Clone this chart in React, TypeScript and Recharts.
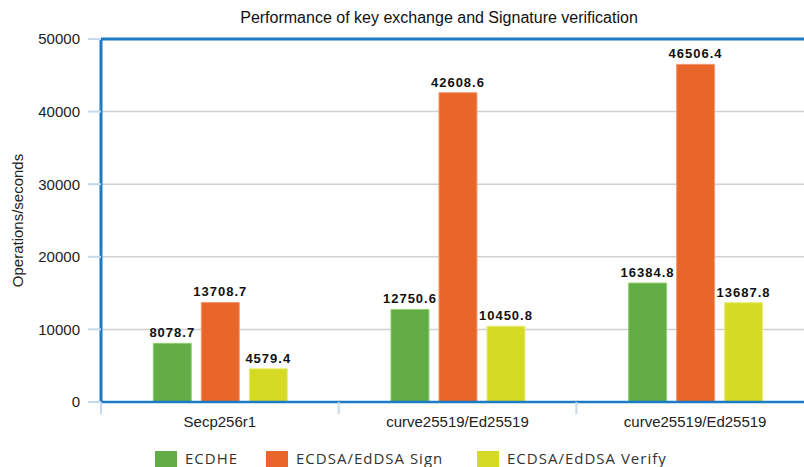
import React from 'react';
import { BarChart, Bar, XAxis, YAxis, CartesianGrid, LabelList, ReferenceLine } from 'recharts';

const categories = ['Secp256r1', 'curve25519/Ed25519', 'curve25519/Ed25519'];
const ecdhe = [8078.7, 12750.6, 16384.8];
const sign = [13708.7, 42608.6, 46506.4];
const verify = [4579.4, 10450.8, 13687.8];
const yTicks = [0, 10000, 20000, 30000, 40000, 50000];

const seriesNames = ['ECDHE', 'ECDSA/EdDSA Sign', 'ECDSA/EdDSA Verify'];
const COLORS = ['#63ad46', '#e9662b', '#d5db24'];
const BLUE = '#1b7bc4';

const CHART_W = 814;
const Y_W = 101;
const BAND = (CHART_W - Y_W) / categories.length;
const FONT = 'Liberation Sans, Arial, sans-serif';

const data = categories.map((c, i) => ({
    key: `${c}-${i}`,
    name: c,
    ecdhe: ecdhe[i],
    sign: sign[i],
    verify: verify[i],
}));

const XTick = (props: any) => {
    const { x, payload } = props;
    const top = 402;
    return (
        <g>
            <line x1={x - BAND / 2} x2={x - BAND / 2} y1={top} y2={top + 12} stroke="#c5d8ec" strokeWidth={2} />
            <text x={x} y={top + 25} textAnchor="middle" fontSize={15} fill="#222" fontFamily={FONT}>
                {categories[payload.index] ?? payload.value}
            </text>
        </g>
    );
};

const labelStyle = { fontSize: 13, fontWeight: 'bold' as const, fill: '#111', letterSpacing: 1, fontFamily: FONT };

const legendLeft = [155, 266, 477];

const App: React.FC = () => {
    return (
        <div style={{ position: 'absolute', left: 0, top: 0, width: 804, height: 467, overflow: 'hidden', background: '#fff' }}>
            <div style={{ position: 'absolute', left: 0, width: 878, top: 9, lineHeight: '18px', textAlign: 'center', fontSize: 16, fontFamily: FONT, color: '#111' }}>
                Performance of key exchange and Signature verification
            </div>
            <BarChart
                width={CHART_W}
                height={467}
                data={data}
                margin={{ top: 39, right: 0, left: 0, bottom: 35 }}
                barCategoryGap="22%"
                barGap={10}
            >
                <CartesianGrid vertical={false} stroke="#d0d0d0" strokeWidth={1.5} />
                <XAxis
                    dataKey="key"
                    height={30}
                    tick={<XTick />}
                    tickLine={false}
                    axisLine={{ stroke: BLUE, strokeWidth: 2.5 }}
                    interval={0}
                />
                <YAxis
                    width={Y_W}
                    domain={[0, 50000]}
                    ticks={yTicks}
                    tickSize={13}
                    tickMargin={8}
                    tickLine={{ stroke: '#c5d8ec', strokeWidth: 2 }}
                    axisLine={{ stroke: BLUE, strokeWidth: 3 }}
                    tick={{ fontSize: 15, fill: '#222', fontFamily: FONT }}
                    label={{
                        value: 'Operations/seconds',
                        angle: -90,
                        position: 'insideLeft',
                        offset: 18,
                        style: { textAnchor: 'middle', fontSize: 15, fill: '#222', fontFamily: FONT },
                    }}
                />
                <ReferenceLine y={50000} stroke={BLUE} strokeWidth={3} />
                <Bar dataKey="ecdhe" fill={COLORS[0]} stroke="#8fd070" strokeWidth={1} isAnimationActive={false}>
                    <LabelList dataKey="ecdhe" position="top" offset={6} style={labelStyle} />
                </Bar>
                <Bar dataKey="sign" fill={COLORS[1]} stroke="#f59a70" strokeWidth={1} isAnimationActive={false}>
                    <LabelList dataKey="sign" position="top" offset={6} style={labelStyle} />
                </Bar>
                <Bar dataKey="verify" fill={COLORS[2]} stroke="#eaee7a" strokeWidth={1} isAnimationActive={false}>
                    <LabelList dataKey="verify" position="top" offset={6} style={labelStyle} />
                </Bar>
            </BarChart>
            {seriesNames.map((n, i) => (
                <div key={n} style={{ position: 'absolute', left: legendLeft[i], top: 450, height: 17, lineHeight: '17px', display: 'flex', alignItems: 'center', fontFamily: 'Open Sans, DejaVu Sans, sans-serif', fontSize: 15, letterSpacing: 1, color: '#333' }}>
                    <span style={{ display: 'inline-block', width: 22, height: 16, background: COLORS[i], marginRight: 8 }} />
                    <span>{n}</span>
                </div>
            ))}
        </div>
    );
};

export default App;
